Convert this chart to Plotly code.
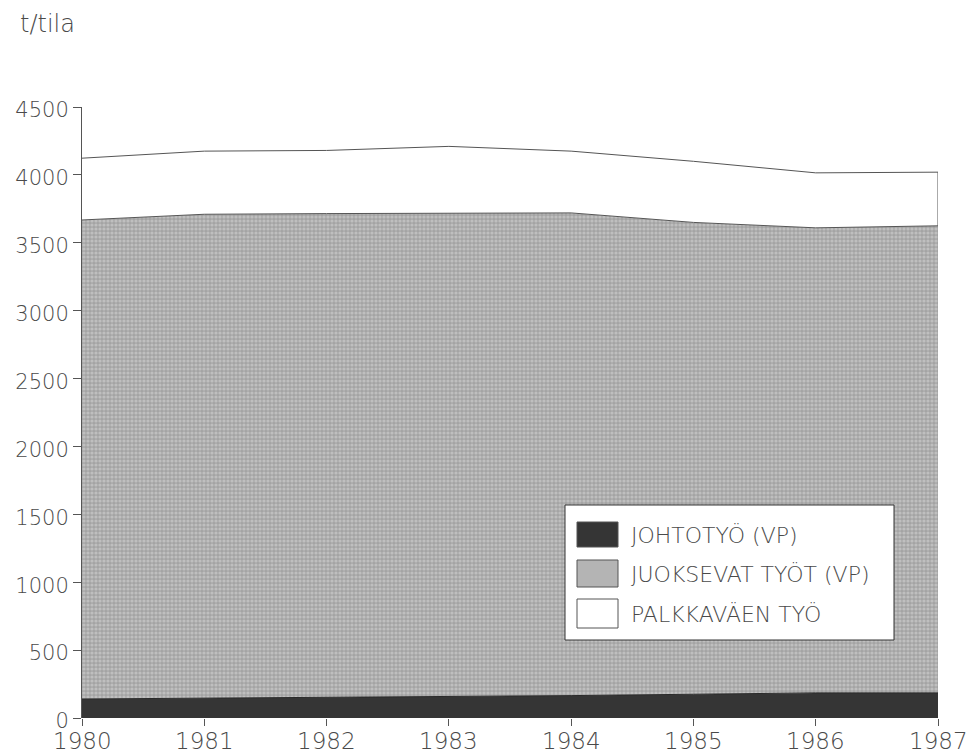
import plotly.graph_objects as go

years = [1980, 1981, 1982, 1983, 1984, 1985, 1986, 1987]
johtotyo = [140, 145, 150, 155, 165, 175, 185, 185]
juoksevat = [3528, 3565, 3565, 3565, 3555, 3475, 3425, 3440]
palkkavaki = [455, 465, 465, 490, 455, 450, 405, 395]

names = ['JOHTOTYÖ (VP)', 'JUOKSEVAT TYÖT (VP)', 'PALKKAVÄEN TYÖ']
y_ticks = [0, 500, 1000, 1500, 2000, 2500, 3000, 3500, 4000, 4500]

INK = '#4a4a4a'
FONT = 'DejaVu Sans'

# plot area in pixels (for placing the hand-drawn legend)
L, R, T, B = 82, 938, 107, 718


def px_x(p):
    return (p - L) / (R - L)


def px_y(p):
    return (B - p) / (B - T)


fig = go.Figure()

fig.add_trace(go.Scatter(
    x=years, y=johtotyo, name=names[0], stackgroup='one',
    mode='lines', line=dict(color='#2a2a2a', width=1),
    fillcolor='#353535'
))
fig.add_trace(go.Scatter(
    x=years, y=juoksevat, name=names[1], stackgroup='one',
    mode='lines', line=dict(color='#555555', width=1),
    fillcolor='#b0b0b0',
    fillpattern=dict(shape='.', bgcolor='#a4a4a4', fgcolor='#dadada',
                     size=4, solidity=0.5)
))
fig.add_trace(go.Scatter(
    x=years, y=palkkavaki, name=names[2], stackgroup='one',
    mode='lines', line=dict(color='#555555', width=1),
    fillcolor='#ffffff'
))

# right-hand closing edge of the white band
lower = johtotyo[-1] + juoksevat[-1]
fig.add_trace(go.Scatter(
    x=[years[-1], years[-1]], y=[lower, lower + palkkavaki[-1]],
    mode='lines', line=dict(color='#555555', width=1),
    showlegend=False, hoverinfo='skip'
))

# legend drawn by hand to match the boxed original
fig.add_shape(type='rect', xref='paper', yref='paper',
              x0=px_x(565), x1=px_x(894), y0=px_y(640), y1=px_y(505),
              line=dict(color='#333333', width=1), fillcolor='white')
swatches = [('#353535', 522, 547), ('#b4b4b4', 560, 587), ('#ffffff', 599, 628)]
for (col, top, bot), label in zip(swatches, names):
    fig.add_shape(type='rect', xref='paper', yref='paper',
                  x0=px_x(577), x1=px_x(618), y0=px_y(bot), y1=px_y(top),
                  line=dict(color='#555555', width=1), fillcolor=col)
    fig.add_annotation(xref='paper', yref='paper', x=px_x(629),
                       y=px_y((top + bot) / 2), text=label, showarrow=False,
                       xanchor='left', yanchor='middle',
                       font=dict(family=FONT, size=22, color=INK, weight=300))

# year labels set a little closer to the axis than plotly's own tick labels
for yr in years:
    fig.add_annotation(xref='x', yref='paper', x=yr, y=0, yshift=-9,
                       text=str(yr), showarrow=False, yanchor='top',
                       borderpad=0,
                       font=dict(family=FONT, size=23, color=INK, weight=300))

fig.add_annotation(xref='paper', yref='paper', x=px_x(18), y=px_y(24),
                   text='t/tila', showarrow=False, xanchor='left',
                   yanchor='middle',
                   font=dict(family=FONT, size=24, color=INK, weight=300))

fig.update_layout(
    width=970, height=754,
    margin=dict(l=L, r=970 - R, t=T, b=754 - B),
    paper_bgcolor='white', plot_bgcolor='white',
    showlegend=False,
    font=dict(family=FONT, color=INK),
)
fig.update_xaxes(
    range=[1980, 1987], tickvals=years, ticks='outside', ticklen=7,
    tickcolor='#555555', showgrid=False, zeroline=False, showline=False,
    automargin=False, showticklabels=False
)
fig.update_yaxes(
    range=[0, 4500], tickvals=y_ticks, ticks='outside', ticklen=8,
    tickcolor='#555555', showline=True, linecolor='#555555', linewidth=1,
    showgrid=False, zeroline=False, automargin=False, ticklabelshift=3,
    tickfont=dict(size=21, color=INK, weight=300)
)

# drop the browser's default body margin so the figure sits at the corner
fig.write_html('out.html', config={'displayModeBar': False},
               post_script="document.body.style.margin='0';")
